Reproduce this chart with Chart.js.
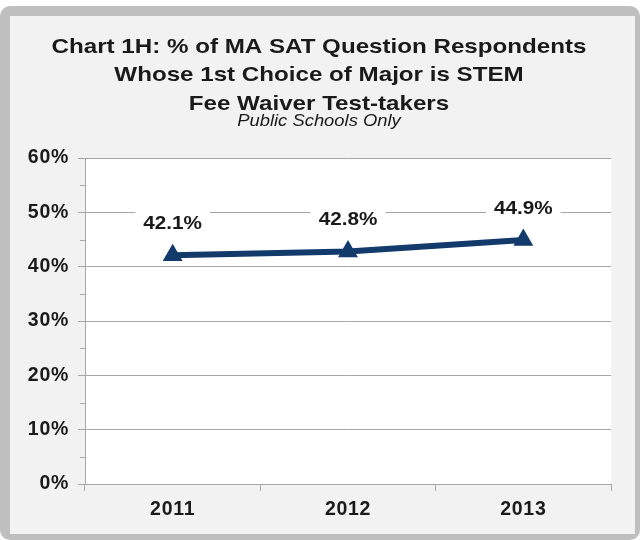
<!DOCTYPE html>
<html>
<head>
<meta charset="utf-8">
<script src="https://cdn.jsdelivr.net/npm/chart.js@4.4.1/dist/chart.umd.min.js"></script>
<style>
html,body{margin:0;padding:0;background:#fff;}
#wrap{width:643px;height:540px;position:relative;}
</style>
</head>
<body>
<div id="wrap"><canvas id="c" width="643" height="540"></canvas></div>
<script>
const categories = ['2011', '2012', '2013'];
const stemPct = [42.1, 42.8, 44.9];
const dataLabels = ['42.1%', '42.8%', '44.9%'];
const titleLines = ['Chart 1H: % of MA SAT Question Respondents', 'Whose 1st Choice of Major is STEM', 'Fee Waiver Test-takers'];
const subtitleText = 'Public Schools Only';
const yMin = 0, yMax = 60, yStep = 10;

const FONT = '"Liberation Sans", Arial, sans-serif';
const TEXT = '#1a1a1a';
const GRID = '#a6a6a6';
const LINE = '#123b6c';
const STRETCH = 1.15;

function stretchedText(ctx, txt, x, y) {
  ctx.save();
  ctx.translate(x, y);
  ctx.scale(STRETCH, 1);
  ctx.fillText(txt, 0, 0);
  ctx.restore();
}

const framePlugin = {
  id: 'frame',
  beforeDraw(chart) {
    const ctx = chart.ctx;
    ctx.letterSpacing = '0.7px';
    ctx.save();
    ctx.letterSpacing = '0px';
    ctx.fillStyle = '#ffffff';
    ctx.fillRect(0, 0, chart.width, chart.height);
    ctx.fillStyle = '#bfbfbf';
    ctx.beginPath();
    ctx.roundRect(0, 6, 640, 534, 10);
    ctx.fill();
    ctx.fillStyle = '#f2f2f2';
    ctx.fillRect(10, 16, 625, 518);
    const a = chart.chartArea;
    ctx.fillStyle = '#ffffff';
    ctx.fillRect(a.left, a.top, a.right - a.left, a.bottom - a.top);
    ctx.fillStyle = TEXT;
    ctx.textAlign = 'center';
    ctx.textBaseline = 'middle';
    ctx.font = 'bold 21px ' + FONT;
    const cx = 319;
    titleLines.forEach((t, i) => stretchedText(ctx, t, cx, 47 + i * 28.5));
    ctx.font = 'italic 16px ' + FONT;
    stretchedText(ctx, subtitleText, cx, 122);
    ctx.restore();
  },
  afterDraw(chart) {
    const ctx = chart.ctx;
    const y = chart.scales.y;
    ctx.save();
    ctx.strokeStyle = GRID;
    ctx.lineWidth = 1;
    for (let v = yMin + yStep / 2; v < yMax; v += yStep) {
      const py = Math.round(y.getPixelForValue(v)) + 0.5;
      ctx.beginPath();
      ctx.moveTo(y.right - 5, py);
      ctx.lineTo(y.right, py);
      ctx.stroke();
    }
    ctx.restore();
  },
  afterDatasetsDraw(chart) {
    const ctx = chart.ctx;
    const meta = chart.getDatasetMeta(0);
    ctx.save();
    ctx.letterSpacing = '0px';
    ctx.font = 'bold 18px ' + FONT;
    ctx.textAlign = 'center';
    ctx.textBaseline = 'middle';
    meta.data.forEach((pt, i) => {
      const txt = dataLabels[i];
      const w = ctx.measureText(txt).width * STRETCH;
      const ly = pt.y - 31;
      ctx.fillStyle = '#ffffff';
      ctx.fillRect(pt.x - w / 2 - 8, ly - 13, w + 16, 26);
      ctx.fillStyle = TEXT;
      stretchedText(ctx, txt, pt.x, ly);
    });
    ctx.restore();
  }
};

new Chart(document.getElementById('c'), {
  type: 'line',
  data: {
    labels: categories,
    datasets: [{
      data: stemPct,
      borderColor: LINE,
      backgroundColor: LINE,
      borderWidth: 6,
      pointStyle: 'triangle',
      pointRadius: 11.5,
      pointBorderWidth: 0,
      pointBackgroundColor: LINE,
      tension: 0,
      fill: false
    }]
  },
  plugins: [framePlugin],
  options: {
    responsive: false,
    animation: false,
    devicePixelRatio: 1,
    layout: { padding: { top: 158, right: 32, left: 0, bottom: 0 } },
    plugins: { legend: { display: false }, title: { display: false }, tooltip: { enabled: false } },
    scales: {
      x: {
        offset: true,
        grid: { offset: true, drawOnChartArea: false, drawTicks: true, tickLength: 7, color: GRID },
        border: { color: GRID, width: 1 },
        ticks: { color: TEXT, font: { family: FONT, size: 19.5, weight: 'bold' }, padding: 7 },
        afterFit(s) { s.height = 56; }
      },
      y: {
        min: yMin, max: yMax,
        grid: { color: GRID, tickLength: 7, lineWidth: 1 },
        border: { color: GRID, width: 1 },
        ticks: {
          stepSize: yStep, color: TEXT, padding: 9,
          font: { family: FONT, size: 19.5, weight: 'bold' },
          callback: v => v + '%'
        },
        afterFit(s) { s.width = 85; }
      }
    }
  }
});
</script>
</body>
</html>
